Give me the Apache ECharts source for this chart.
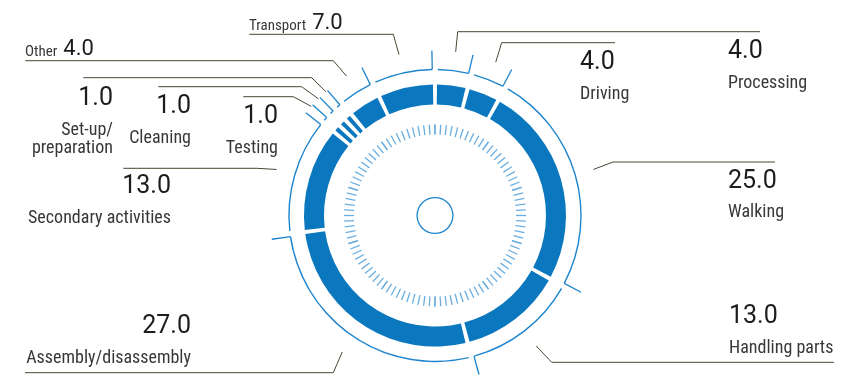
<!DOCTYPE html>
<html>
<head>
<meta charset="utf-8">
<script src="https://cdn.jsdelivr.net/npm/echarts@6/dist/echarts.min.js"></script>
<style>
  html, body { margin: 0; padding: 0; background: #fff; }
  #chart { width: 864px; height: 378px; }
</style>
</head>
<body>
<div id="chart"></div>
<script>
// share of working time, clockwise from 12 o'clock
const categories = ['Driving', 'Processing', 'Walking', 'Handling parts', 'Assembly/disassembly',
  'Secondary activities', 'Testing', 'Cleaning', 'Set-up/\npreparation', 'Other', 'Transport'];
const shares = [4, 4, 25, 13, 27, 13, 1, 1, 1, 4, 7];
const inlineLabels = ['Other', 'Transport']; // name + value on one line

const cx = 435, cy = 215.5;
const barBlue = '#0b77be';
const lineBlue = '#1d84cd';
const tickBlue = '#6aaee0';
const leaderColor = '#4b4434';
const nameFont = "'Liberation Sans Narrow', 'Roboto Condensed', Roboto, sans-serif";
const numFont = 'Roboto, sans-serif';

// text boxes: [anchor x, top y, align]
const labelBoxes = [
  [580, 41, 'left'], [728, 30, 'left'], [728, 159.4, 'left'], [729, 295, 'left'],
  [191, 305, 'right'], [171, 165, 'right'], [278, 95, 'right'], [191, 85, 'right'],
  [113, 77, 'right'], [25, 30, 'left'], [249, 4, 'left']
];
// leader lines: [elbow x, elbow y, end x]
const leaders = [
  [457.7, 31.7, 760], [501.7, 42.7, 615], [613, 162, 775], [551.7, 362.3, 834],
  [333.3, 372.7, 25], [256.7, 168.3, 123.3], [293.3, 96.7, 243.3], [301.7, 86.7, 158.3],
  [311.7, 77.7, 83.3], [333.3, 60.7, 25.3], [393.3, 34.3, 249.3]
];

const total = shares.reduce((a, b) => a + b, 0);
const cumEnd = [];
let acc = 0;
shares.forEach(v => { acc += v; cumEnd.push(acc); });

function midPoint(i, r) {
  const a = (cumEnd[i] - shares[i] / 2) / total * Math.PI * 2;
  return [cx + r * Math.sin(a), cy - r * Math.cos(a)];
}

const chart = echarts.init(document.getElementById('chart'));

const option = {
  animation: false,
  polar: { center: [cx, cy], radius: 200 },
  angleAxis: { type: 'value', min: 0, max: total, startAngle: 90, clockwise: true, show: false },
  radiusAxis: { type: 'value', min: 0, max: 200, show: false },
  series: [
    // main segments
    {
      type: 'pie',
      center: [cx, cy],
      radius: [111, 131],
      startAngle: 90,
      clockwise: true,
      padAngle: 1.8,
      silent: true,
      avoidLabelOverlap: false,
      itemStyle: { color: barBlue },
      data: categories.map((c, i) => ({ name: c, value: shares[i] })),
      label: {
        show: true,
        position: 'outside',
        formatter: p => {
          const v = p.value.toFixed(1);
          if (inlineLabels.includes(p.name)) return `{sName|${p.name}}{sNum|${v}}`;
          return `{num|${v}}\n` + p.name.split('\n').map(s => `{name|${s}}`).join('\n');
        },
        rich: {
          num: { fontFamily: numFont, fontSize: 25, color: '#1c1c1c', lineHeight: 44 },
          name: { fontFamily: nameFont, fontSize: 18, color: '#383838', lineHeight: 18 },
          sName: { fontFamily: nameFont, fontSize: 15, color: '#383838', lineHeight: 30, verticalAlign: 'bottom' },
          sNum: { fontFamily: numFont, fontSize: 22, color: '#1c1c1c', lineHeight: 30, verticalAlign: 'bottom', padding: [0, 0, 0, 6] }
        }
      },
      labelLine: { show: true, smooth: false, lineStyle: { color: leaderColor, width: 1 } },
      labelLayout: params => {
        const i = params.dataIndex;
        const box = labelBoxes[i];
        const ld = leaders[i];
        return {
          x: box[0],
          y: box[1],
          align: box[2],
          verticalAlign: 'top',
          labelLinePoints: [midPoint(i, 165), [ld[0], ld[1]], [ld[2], ld[1]]]
        };
      }
    },
    // thin outer ring
    {
      type: 'pie',
      center: [cx, cy],
      radius: [145.3, 146.7],
      startAngle: 90,
      clockwise: true,
      padAngle: 2.2,
      silent: true,
      label: { show: false },
      labelLine: { show: false },
      itemStyle: { color: lineBlue },
      data: shares
    },
    // boundary ticks on the outer ring
    {
      type: 'custom',
      coordinateSystem: 'polar',
      silent: true,
      data: cumEnd,
      renderItem: (params, api) => {
        const a = api.value(0) - 0.3;
        const p0 = api.coord([146, a]);
        const p1 = api.coord([165, a]);
        return {
          type: 'line',
          shape: { x1: p0[0], y1: p0[1], x2: p1[0], y2: p1[1] },
          style: { stroke: lineBlue, lineWidth: 1.3 }
        };
      }
    },
    // inner tick ring
    {
      type: 'gauge',
      center: [cx, cy],
      radius: 91,
      startAngle: 90,
      endAngle: -270,
      min: 0,
      max: total,
      splitNumber: 10,
      silent: true,
      axisLine: { show: false, lineStyle: { width: 0 } },
      splitLine: { show: false },
      axisLabel: { show: false },
      pointer: { show: false },
      anchor: { show: false },
      progress: { show: false },
      title: { show: false },
      detail: { show: false },
      axisTick: { show: true, splitNumber: 10, distance: 0, length: 10, lineStyle: { color: tickBlue, width: 1.3 } },
      data: []
    },
    // small centre circle
    {
      type: 'gauge',
      center: [cx, cy],
      radius: 18.6,
      startAngle: 90,
      endAngle: -270,
      silent: true,
      axisLine: { show: true, lineStyle: { width: 1.3, color: [[1, lineBlue]] } },
      splitLine: { show: false },
      axisTick: { show: false },
      axisLabel: { show: false },
      pointer: { show: false },
      anchor: { show: false },
      progress: { show: false },
      title: { show: false },
      detail: { show: false },
      data: []
    }
  ]
};

chart.setOption(option);
window.addEventListener('resize', () => chart.resize());
</script>
</body>
</html>
